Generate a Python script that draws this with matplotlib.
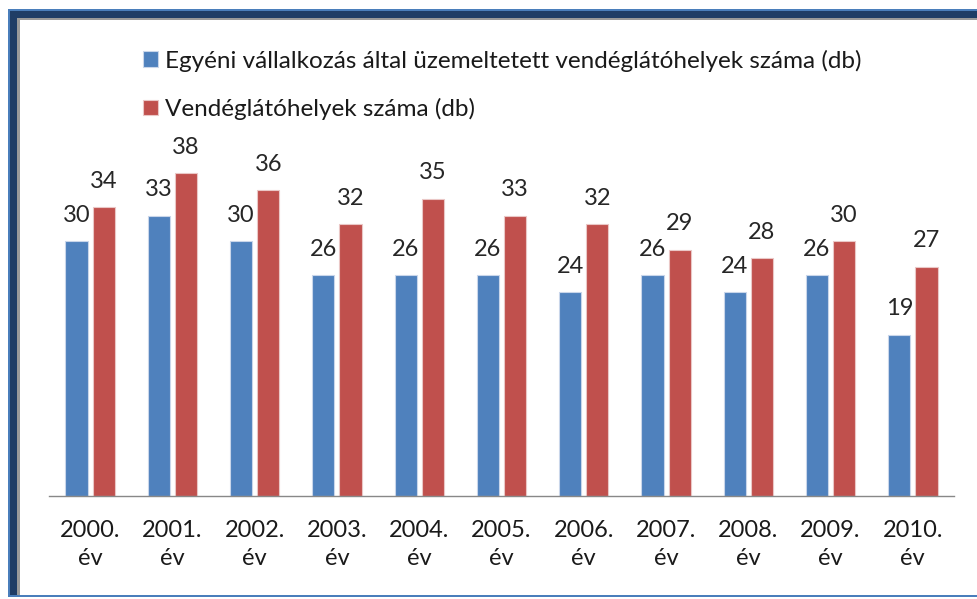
import matplotlib
matplotlib.use("Agg")
import matplotlib.pyplot as plt
from matplotlib.patches import Rectangle
import numpy as np

years = ["2000.\név", "2001.\név", "2002.\név", "2003.\név", "2004.\név", "2005.\név",
         "2006.\név", "2007.\név", "2008.\név", "2009.\név", "2010.\név"]
egyeni = [30, 33, 30, 26, 26, 26, 24, 26, 24, 26, 19]
osszes = [34, 38, 36, 32, 35, 33, 32, 29, 28, 30, 27]
labels = ["Egyéni vállalkozás által üzemeltetett vendéglátóhelyek száma (db)",
          "Vendéglátóhelyek száma (db)"]

plt.rcParams['font.family'] = ['Lato', 'DejaVu Sans']

W, H = 978, 599
fig = plt.figure(figsize=(W / 100, H / 100), dpi=100)

def fx(px):
    return px / W

def fy(py):
    return 1 - py / H

# frame (dark blue border on top, left, bottom)
def rect(x0, y0, x1, y1, color):
    fig.patches.append(Rectangle((fx(x0), fy(y1)), fx(x1) - fx(x0), fy(y0) - fy(y1),
                                 transform=fig.transFigure, color=color, zorder=0, lw=0))

rect(8, 9, W, 11, "#4A7EBB")
rect(8, 9, 10, 597, "#4A7EBB")
rect(10, 11, W, 18, "#1F3D66")
rect(10, 11, 17, 597, "#1F3D66")
rect(17, 18, W, 20, "#9A9A9A")
rect(17, 18, 20, 595, "#9A9A9A")
rect(8, 595, W, 597, "#4A7EBB")

# axes
ax_left, ax_right, ax_bottom, ax_top = 49, 954, 496, 156
ax = fig.add_axes([fx(ax_left), fy(ax_bottom), fx(ax_right) - fx(ax_left), fy(ax_top) - fy(ax_bottom)])
ax.set_ylim(0, 40)
x = np.arange(len(years))
ax.set_xlim(-0.5, len(years) - 0.5)

bw = 0.27
b1 = ax.bar(x - bw / 2 - 0.03, egyeni, width=bw, color="#4F81BD", edgecolor="#C9D6EA", linewidth=0.8,
            label=labels[0])
b2 = ax.bar(x + bw / 2 + 0.03, osszes, width=bw, color="#C0504D", edgecolor="#EAC7C6", linewidth=0.8,
            label=labels[1])

for bars in (b1, b2):
    ax.bar_label(bars, padding=11, fontsize=17, color="#262626")

for s in ["top", "right", "left"]:
    ax.spines[s].set_visible(False)
ax.spines["bottom"].set_color("#888888")
ax.spines["bottom"].set_linewidth(1.0)
ax.set_yticks([])
ax.set_xticks(x)
ax.set_xticklabels(years, fontsize=17, color="#1A1A1A", linespacing=1.45)
ax.tick_params(axis="x", length=0, pad=17)

leg = fig.legend(handles=[b1, b2], labels=labels, loc="upper left",
                 bbox_to_anchor=(fx(121), fy(28)), frameon=False, fontsize=17.5,
                 handlelength=0.63, handleheight=0.63, handletextpad=0.3, labelspacing=1.07)
for t in leg.get_texts():
    t.set_color("#1A1A1A")

fig.savefig("out.png", dpi=100, facecolor="white")
